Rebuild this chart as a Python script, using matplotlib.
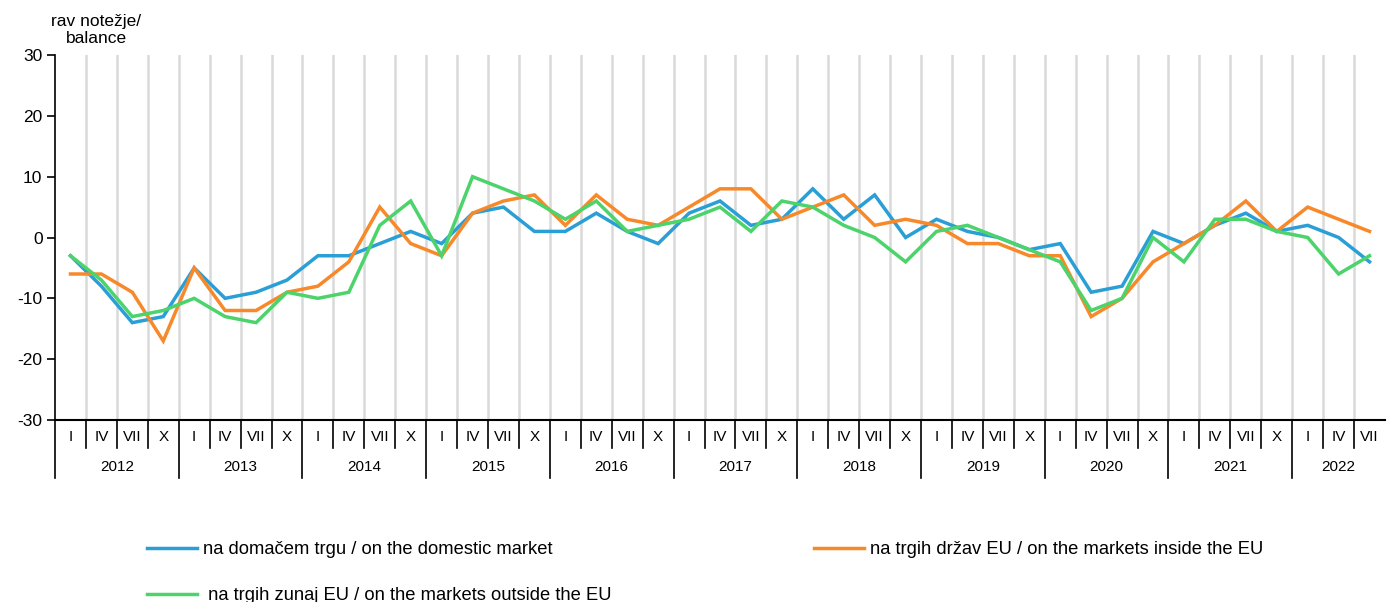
import matplotlib.pyplot as plt
import matplotlib.transforms as mtransforms

plt.rcParams['font.family'] = ['Liberation Sans', 'DejaVu Sans']
plt.rcParams['axes.unicode_minus'] = False

## DATA ##
YEARS = ['2012', '2013', '2014', '2015', '2016', '2017', '2018', '2019', '2020', '2021', '2022']
QUARTERS = ['I', 'IV', 'VII', 'X']
N_POINTS = 43  # 2012 I ... 2022 VII

DOMESTIC = [-3, -8, -14, -13,  -5, -10, -9, -7,  -3, -3, -1, 1,  -1, 4, 5, 1,
            1, 4, 1, -1,  4, 6, 2, 3,  8, 3, 7, 0,  3, 1, 0, -2,
            -1, -9, -8, 1,  -1, 2, 4, 1,  2, 0, -4]
INSIDE_EU = [-6, -6, -9, -17,  -5, -12, -12, -9,  -8, -4, 5, -1,  -3, 4, 6, 7,
             2, 7, 3, 2,  5, 8, 8, 3,  5, 7, 2, 3,  2, -1, -1, -3,
             -3, -13, -10, -4,  -1, 2, 6, 1,  5, 3, 1]
OUTSIDE_EU = [-3, -7, -13, -12,  -10, -13, -14, -9,  -10, -9, 2, 6,  -3, 10, 8, 6,
              3, 6, 1, 2,  3, 5, 1, 6,  5, 2, 0, -4,  1, 2, 0, -2,
              -4, -12, -10, 0,  -4, 3, 3, 1,  0, -6, -3]

LABELS = ['na domačem trgu / on the domestic market',
          'na trgih držav EU / on the markets inside the EU',
          ' na trgih zunaj EU / on the markets outside the EU']
COLORS = ['#2A9FD6', '#F7892A', '#4CD36B']

fig = plt.figure(figsize=(13.87, 6.02), dpi=100)
ax = fig.add_axes([55 / 1387, 182 / 602, 1330 / 1387, 365 / 602])

x = list(range(N_POINTS))

# vertical grid at category boundaries
for b in range(N_POINTS - 1):
    ax.axvline(b + 0.5, color='#D9D9D9', lw=1.8, zorder=0)

lines = []
for series, col in zip([DOMESTIC, INSIDE_EU, OUTSIDE_EU], COLORS):
    l, = ax.plot(x, series, color=col, lw=2.5, solid_joinstyle='miter', zorder=3)
    lines.append(l)

ax.set_xlim(-0.5, N_POINTS - 0.5)
ax.set_ylim(-30, 30)
ax.set_yticks(range(-30, 31, 10))
ax.set_xticks([])
ax.tick_params(axis='y', labelsize=12.5, length=6, width=1.2, direction='out', pad=3)
for s in ['top', 'right']:
    ax.spines[s].set_visible(False)
ax.spines['left'].set_linewidth(1.2)
ax.spines['bottom'].set_linewidth(1.5)

# two-level category axis
trans = mtransforms.blended_transform_factory(ax.transData, ax.transAxes)
for i in range(N_POINTS):
    q = QUARTERS[i % 4]
    ax.text(i, -0.047, q, transform=trans, ha='center', va='center', fontsize=11)
    if i > 0:
        depth = -0.159 if i % 4 == 0 else -0.077
        ax.plot([i - 0.5, i - 0.5], [0, depth], transform=trans, color='black', lw=1.2, clip_on=False)
ax.plot([-0.5, -0.5], [0, -0.159], transform=trans, color='black', lw=1.2, clip_on=False)
for k, yr in enumerate(YEARS):
    start = 4 * k
    end = min(4 * k + 3, N_POINTS - 1)
    ax.text((start + end) / 2, -0.129, yr, transform=trans, ha='center', va='center', fontsize=11)

# axis title
fig.text(96 / 1387, 1 - 30 / 602, 'rav notežje/\nbalance', ha='center', va='center',
         fontsize=12.5, linespacing=1.1)

# legend
handles = [lines[0], lines[2], lines[1]]
labs = [LABELS[0], LABELS[2], LABELS[1]]
fig.legend(handles, labs, ncol=2, loc='upper left', bbox_to_anchor=(147 / 1387, 1 - 541 / 602),
           frameon=False, fontsize=13.2, handlelength=2.75, handletextpad=0.3, borderpad=0,
           borderaxespad=0, labelspacing=1.6, columnspacing=11.05)

fig.savefig('out.png', dpi=100)
